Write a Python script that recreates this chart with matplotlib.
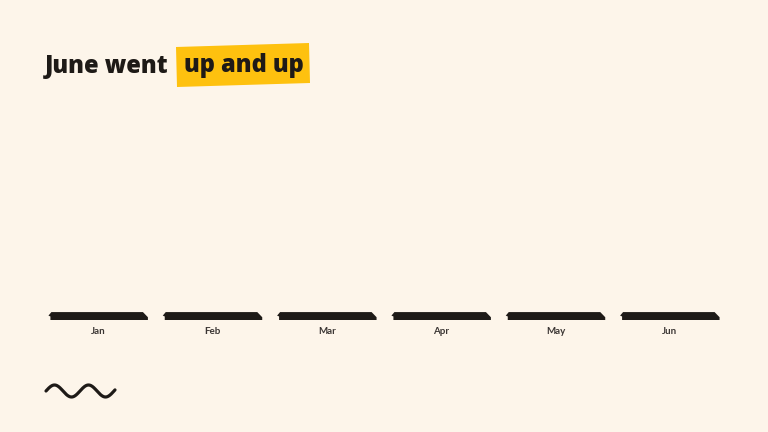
import numpy as np
import matplotlib.pyplot as plt
from matplotlib.patches import Polygon

months = ['Jan', 'Feb', 'Mar', 'Apr', 'May', 'Jun']
values = [3.6, 3.6, 3.6, 3.6, 3.6, 3.6]

BG = '#fdf5ea'
INK = '#1e1a17'
YELLOW = '#fec10f'
W, H = 768, 432


def fx(px):
    return px / W


def fy(py):
    return 1 - py / H


fig = plt.figure(figsize=(7.68, 4.32), dpi=100, facecolor=BG)

# bars axes: baseline at y=320px, x slots of ~114px
ax = fig.add_axes([fx(41), fy(320), fx(727) - fx(41), fy(100) - fy(320)])
ax.set_facecolor(BG)
ax.set_xlim(-0.5, 5.5)
ax.set_ylim(0, 100)
for s in ax.spines.values():
    s.set_visible(False)

bw = 0.87
for i, v in enumerate(values):
    x0, x1 = i - bw / 2, i + bw / 2
    pts = [(x0 + 0.02 * bw, 0), (x0 + 0.02 * bw, v * 0.45), (x0, v * 0.55),
           (x0 + 0.03 * bw, v), (x1 - 0.05 * bw, v), (x1, v * 0.35), (x1, 0)]
    ax.add_patch(Polygon(pts, closed=True, facecolor=INK, edgecolor='none'))

ax.set_xticks(range(len(months)))
ax.set_xticklabels(months, fontsize=7, fontweight='bold', color='#3a3533',
                   family='Lato')
ax.tick_params(axis='x', length=0, pad=5)
ax.set_yticks([])

# title with yellow highlight
box = [(176, 47), (309, 43), (310, 83), (177, 87)]
fig.patches.append(Polygon([(fx(a), fy(b)) for a, b in box], closed=True,
                           transform=fig.transFigure, facecolor=YELLOW,
                           edgecolor='none'))
fig.text(fx(45), fy(73), 'June went', fontsize=17, fontweight='heavy',
         family='Open Sans', color=INK, va='baseline')
fig.text(fx(184), fy(72), 'up and up', fontsize=17, fontweight='heavy',
         family='Open Sans', color=INK, va='baseline')

# squiggle decoration
sx = np.linspace(46, 115, 200)
sy = 391 - 6 * np.sin(2 * np.pi * (sx - 46) / 34)
fig.add_artist(plt.Line2D(fx(sx), fy(sy), transform=fig.transFigure,
                          color=INK, lw=2.3, solid_capstyle='round'))

fig.savefig('out.png', dpi=100, facecolor=BG)
